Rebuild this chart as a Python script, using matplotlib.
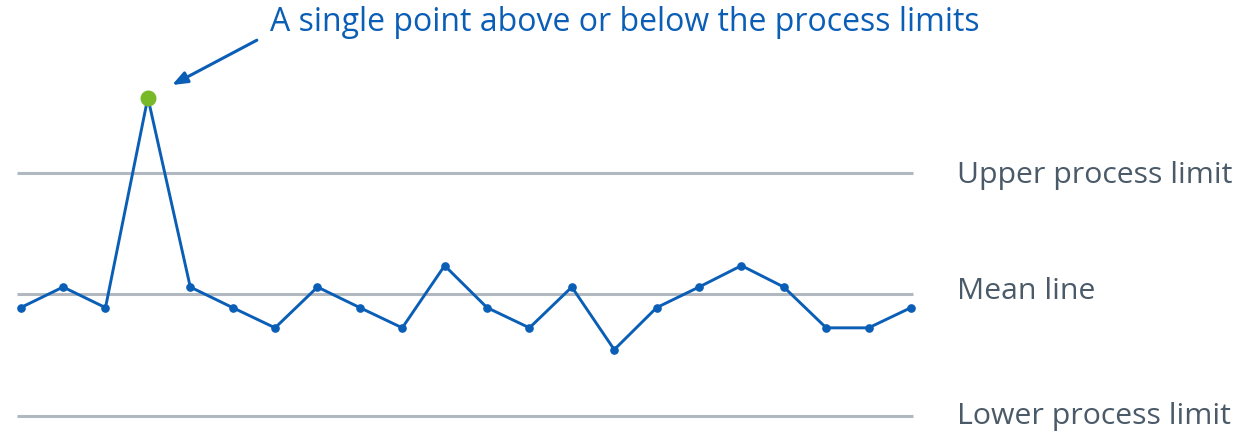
import numpy as np
import matplotlib.pyplot as plt

plt.rcParams['font.family'] = ['Open Sans', 'DejaVu Sans']

# process values (arbitrary units), mean and limits
values = [46.7, 51.8, 46.7, 98.7, 51.8, 46.7, 41.7, 51.8, 46.7, 41.7, 57.1,
          46.7, 41.7, 51.8, 36.3, 46.7, 51.8, 57.1, 51.8, 41.7, 41.7, 46.7]
mean_line = 50
upper_limit = 80
lower_limit = 20
outlier_idx = 3

limit_labels = ['Upper process limit', 'Mean line', 'Lower process limit']
title = 'A single point above or below the process limits'

blue = '#0a5eb6'
green = '#78b928'
grey = '#b1b8c0'
text_grey = '#4a5a68'

fig = plt.figure(figsize=(12.4, 4.33), dpi=100)
ax = fig.add_axes([0, 0, 1, 1])
x = np.arange(len(values))

for lvl in [upper_limit, mean_line, lower_limit]:
    ax.plot([-0.08, len(values) - 1 + 0.04], [lvl, lvl], color=grey, lw=2.2,
            solid_capstyle='butt', zorder=1)

ax.plot(x, values, color=blue, lw=2.1, marker='o', markersize=5.2, zorder=2)
ax.plot(x[outlier_idx], values[outlier_idx], 'o', color=green, markersize=10.5, zorder=3)

for lvl, lab in zip([upper_limit - 0.6, mean_line + 0.8, lower_limit - 0.2], limit_labels):
    ax.text(22.08, lvl, lab, color=text_grey, fontsize=21.8, va='center', ha='left')

ax.text(5.88, 117.2, title, color=blue, fontsize=23, va='center', ha='left')
ax.annotate('', xy=(3.57, 101.8), xytext=(5.57, 112.9),
            arrowprops=dict(arrowstyle='-|>,head_length=0.9,head_width=0.35',
                            color=blue, lw=2.2, shrinkA=0, shrinkB=0))

ax.set_xlim(-0.488, 28.76)
ax.set_ylim(15.67, 122.85)
ax.axis('off')

plt.savefig('out.png', dpi=100)
